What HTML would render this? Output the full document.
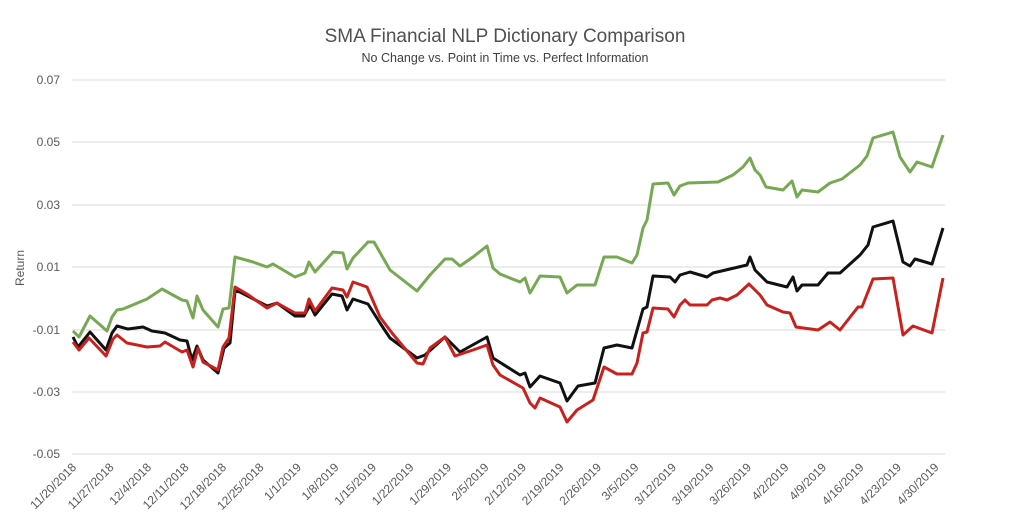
<!DOCTYPE html>
<html><head><meta charset="utf-8"><style>
html,body{margin:0;padding:0;background:#fff;}
svg{display:block;font-family:"Liberation Sans",sans-serif;}
</style></head><body>
<svg width="1030" height="513" viewBox="0 0 1030 513" xmlns="http://www.w3.org/2000/svg">
<text x="505" y="42" text-anchor="middle" font-size="19" fill="#505050">SMA Financial NLP Dictionary Comparison</text>
<text x="505" y="62" text-anchor="middle" font-size="12.5" fill="#404040">No Change vs. Point in Time vs. Perfect Information</text>
<g stroke="#d9d9d9" stroke-width="1">
<line x1="72" y1="80" x2="945" y2="80"/><line x1="72" y1="142" x2="945" y2="142"/><line x1="72" y1="205" x2="945" y2="205"/><line x1="72" y1="267" x2="945" y2="267"/><line x1="72" y1="330" x2="945" y2="330"/><line x1="72" y1="392" x2="945" y2="392"/><line x1="72" y1="454" x2="945" y2="454"/>
</g>
<g font-size="12" fill="#595959" text-anchor="end">
<text x="60" y="84">0.07</text><text x="60" y="146">0.05</text><text x="60" y="209">0.03</text><text x="60" y="271">0.01</text><text x="60" y="334">-0.01</text><text x="60" y="396">-0.03</text><text x="60" y="458">-0.05</text>
</g>
<text transform="translate(24,268) rotate(-90)" text-anchor="middle" font-size="12" fill="#595959">Return</text>
<g font-size="12" fill="#595959" text-anchor="end">
<text transform="translate(77,468) rotate(-45)">11/20/2018</text>
<text transform="translate(114.5,468) rotate(-45)">11/27/2018</text>
<text transform="translate(152,468) rotate(-45)">12/4/2018</text>
<text transform="translate(189.5,468) rotate(-45)">12/11/2018</text>
<text transform="translate(227,468) rotate(-45)">12/18/2018</text>
<text transform="translate(264.5,468) rotate(-45)">12/25/2018</text>
<text transform="translate(302,468) rotate(-45)">1/1/2019</text>
<text transform="translate(339.5,468) rotate(-45)">1/8/2019</text>
<text transform="translate(377,468) rotate(-45)">1/15/2019</text>
<text transform="translate(414.5,468) rotate(-45)">1/22/2019</text>
<text transform="translate(452,468) rotate(-45)">1/29/2019</text>
<text transform="translate(489.5,468) rotate(-45)">2/5/2019</text>
<text transform="translate(527,468) rotate(-45)">2/12/2019</text>
<text transform="translate(564.5,468) rotate(-45)">2/19/2019</text>
<text transform="translate(602,468) rotate(-45)">2/26/2019</text>
<text transform="translate(639.5,468) rotate(-45)">3/5/2019</text>
<text transform="translate(677,468) rotate(-45)">3/12/2019</text>
<text transform="translate(714.5,468) rotate(-45)">3/19/2019</text>
<text transform="translate(752,468) rotate(-45)">3/26/2019</text>
<text transform="translate(789.5,468) rotate(-45)">4/2/2019</text>
<text transform="translate(827,468) rotate(-45)">4/9/2019</text>
<text transform="translate(864.5,468) rotate(-45)">4/16/2019</text>
<text transform="translate(902,468) rotate(-45)">4/23/2019</text>
<text transform="translate(939.5,468) rotate(-45)">4/30/2019</text>
</g>
<g fill="none" stroke-width="3" stroke-linejoin="round">
<polyline stroke="#77a853" points="73,331 79,337 90,316 107,331 112,317 117,310 123,309 147,299 162,289 182,300 187,301 193,318 197,296 203,310 218,327 223,309 229,308 235,257 253,262 267,267 273,264 295,277 305,273 309,262 315,272 333,252 343,253 347,269 353,258 368,242 374,242 390,270 417,291 430,275 445,259 452,259 460,266 473,257 487,246 493,268 500,274 520,282 525,278 530,293 540,276 560,277 567,293 577,285 595,285 604,257 617,257 632,263 637,255 643,228 647,220 653,184 668,183 674,195 680,186 688,183 718,182 733,175 743,167 750,158 755,170 760,175 766,187 783,190 792,181 797,197 802,190 818,192 830,183 842,179 860,165 867,156 873,138 893,132 900,157 910,172 917,162 932,167 943,135"/>
<polyline stroke="#111" points="73,337 78,347 90,332 106,350 112,333 117,326 128,329 143,327 152,331 165,333 180,340 187,341 192,360 197,346 203,360 218,373 224,348 230,343 235,291 240,292 267,306 277,303 295,316 304,316 310,305 315,315 332,294 342,296 347,310 353,299 368,304 380,323 390,338 417,358 425,355 445,337 460,352 487,337 493,358 520,375 525,373 530,387 540,376 560,383 567,401 578,386 595,383 604,348 617,345 632,348 643,309 647,307 653,276 670,277 675,282 680,275 690,272 707,277 713,273 747,265 750,257 755,270 767,282 787,287 793,277 797,291 802,285 818,285 828,273 840,273 860,255 868,245 873,227 893,221 903,262 910,266 915,259 932,264 943,228"/>
<polyline stroke="#c9211e" points="73,342 79,350 89,338 106,356 113,339 117,335 127,343 147,347 160,346 165,342 182,352 187,350 193,367 198,348 203,362 218,370 223,347 229,338 235,287 247,294 267,308 277,303 295,313 305,313 309,299 315,311 332,288 343,290 347,297 353,282 367,287 380,317 392,333 417,363 423,364 430,348 445,337 455,356 473,350 487,345 493,365 500,375 523,388 530,403 535,408 540,398 560,407 567,422 577,410 593,400 604,367 617,374 632,374 637,363 643,333 647,332 653,308 668,309 674,317 680,305 685,300 690,305 707,305 712,300 720,298 727,300 737,295 749,284 760,295 767,305 783,312 790,313 796,327 818,330 830,322 840,330 858,307 862,307 873,279 893,278 903,335 913,326 932,333 943,278"/>
</g>
</svg>
</body></html>
